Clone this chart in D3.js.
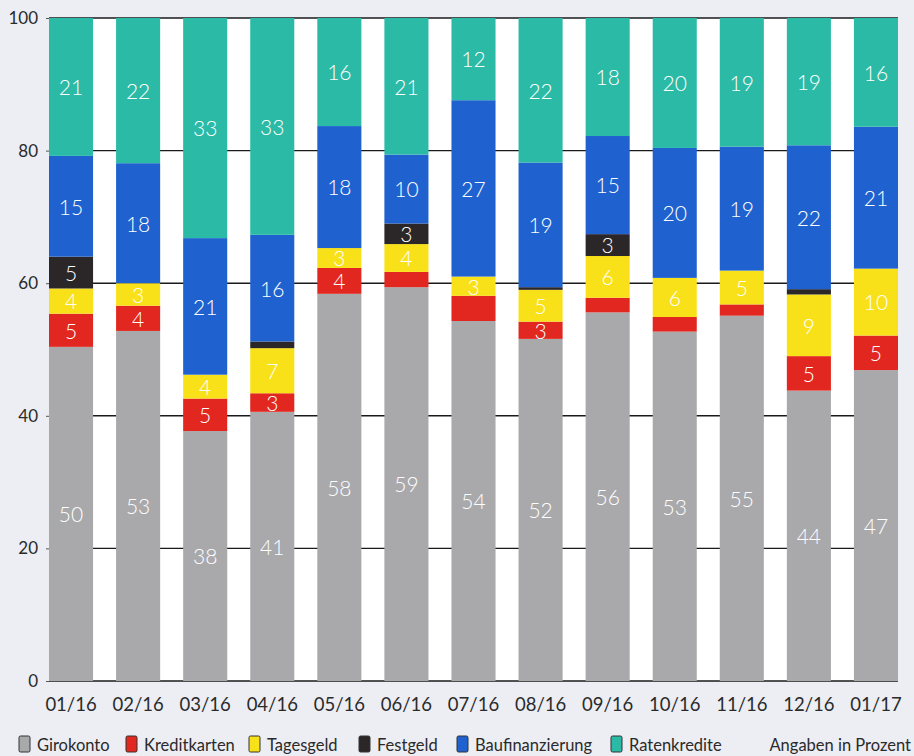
<!DOCTYPE html>
<html>
<head>
<meta charset="utf-8">
<script src="https://cdn.jsdelivr.net/npm/d3@7"></script>
<style>
  html, body { margin: 0; padding: 0; background: #eceef4; }
  svg { display: block; font-family: "Lato", "Open Sans", sans-serif; }
</style>
</head>
<body>
<svg id="chart" width="914" height="756"></svg>
<script>
// Monate
const categories = ["01/16", "02/16", "03/16", "04/16", "05/16", "06/16", "07/16",
                    "08/16", "09/16", "10/16", "11/16", "12/16", "01/17"];

// Anteile in Prozent
const girokonto       = [50.4, 52.8, 37.7, 40.6, 58.4, 59.4, 54.3, 51.6, 55.6, 52.7, 55.1, 43.8, 46.9];
const kreditkarten    = [5.0, 3.8, 4.9, 2.8, 3.9, 2.3, 3.8, 2.6, 2.2, 2.2, 1.7, 5.2, 5.2];
const tagesgeld       = [3.8, 3.4, 3.6, 6.8, 3.0, 4.2, 2.9, 4.8, 6.3, 5.9, 5.1, 9.3, 10.1];
const festgeld        = [4.8, 0, 0, 1.0, 0, 3.1, 0, 0.4, 3.3, 0, 0, 0.8, 0];
const baufinanzierung = [15.2, 18.1, 20.6, 16.1, 18.4, 10.4, 26.6, 18.8, 14.8, 19.6, 18.7, 21.7, 21.4];
const ratenkredite    = [20.8, 21.9, 33.2, 32.7, 16.3, 20.6, 12.4, 21.8, 17.8, 19.6, 19.4, 19.2, 16.4];

// Beschriftungen in den Balken (null = ohne Zahl)
const girokontoLabels       = [50, 53, 38, 41, 58, 59, 54, 52, 56, 53, 55, 44, 47];
const kreditkartenLabels    = [5, 4, 5, 3, 4, null, null, 3, null, null, null, 5, 5];
const tagesgeldLabels       = [4, 3, 4, 7, 3, 4, 3, 5, 6, 6, 5, 9, 10];
const festgeldLabels        = [5, null, null, null, null, 3, null, null, 3, null, null, null, null];
const baufinanzierungLabels = [15, 18, 21, 16, 18, 10, 27, 19, 15, 20, 19, 22, 21];
const ratenkrediteLabels    = [21, 22, 33, 33, 16, 21, 12, 22, 18, 20, 19, 19, 16];

const yTicks = [0, 20, 40, 60, 80, 100];

const series = [
  { key: "Girokonto",       values: girokonto,       labels: girokontoLabels,       color: "#a9a9ac" },
  { key: "Kreditkarten",    values: kreditkarten,    labels: kreditkartenLabels,    color: "#e1271f" },
  { key: "Tagesgeld",       values: tagesgeld,       labels: tagesgeldLabels,       color: "#f9e11a" },
  { key: "Festgeld",        values: festgeld,        labels: festgeldLabels,        color: "#2b2729" },
  { key: "Baufinanzierung", values: baufinanzierung, labels: baufinanzierungLabels, color: "#1f62cf" },
  { key: "Ratenkredite",    values: ratenkredite,    labels: ratenkrediteLabels,    color: "#2bbaa6" }
];

// Tabelle fuer d3.stack
const table = categories.map((c, i) => {
  const row = { month: c, idx: i };
  series.forEach(s => { row[s.key] = s.values[i]; });
  return row;
});

const svg = d3.select("#chart");
const plotLeft = 49, plotRight = 898, plotTop = 18, plotBottom = 681;

const x = d3.scaleBand()
  .domain(categories)
  .range([plotLeft, plotRight])
  .paddingInner(0.343)
  .paddingOuter(0);

const y = d3.scaleLinear()
  .domain([0, 100])
  .range([plotBottom, plotTop]);

// weisse Zeichenflaeche
svg.append("rect")
  .attr("x", plotLeft).attr("y", plotTop)
  .attr("width", plotRight - plotLeft).attr("height", plotBottom - plotTop)
  .attr("fill", "#ffffff");

// Gitterlinien
svg.append("g").selectAll("line")
  .data(yTicks)
  .enter().append("line")
  .attr("x1", plotLeft).attr("x2", plotRight)
  .attr("y1", d => y(d)).attr("y2", d => y(d))
  .attr("stroke", "#1a1a1a")
  .attr("stroke-width", 1.4);

// Balken
const stack = d3.stack().keys(series.map(s => s.key));
const layers = stack(table);

const layerG = svg.append("g").selectAll("g")
  .data(layers)
  .enter().append("g")
  .attr("fill", (d, i) => series[i].color);

layerG.selectAll("rect")
  .data(d => d)
  .enter().append("rect")
  .attr("x", d => x(d.data.month))
  .attr("y", d => y(d[1]))
  .attr("width", x.bandwidth())
  .attr("height", d => y(d[0]) - y(d[1]));

// Zahlen in den Balken
const labelG = svg.append("g")
  .attr("font-size", 21)
  .attr("font-weight", 300)
  .attr("fill", "#ffffff")
  .attr("text-anchor", "middle");

layers.forEach((layer, si) => {
  layer.forEach((d, i) => {
    const lab = series[si].labels[i];
    if (lab == null) return;
    labelG.append("text")
      .attr("x", x(d.data.month) + x.bandwidth() / 2)
      .attr("y", (y(d[0]) + y(d[1])) / 2 + 1)
      .attr("dy", "0.35em")
      .text(lab);
  });
});

// y-Achse
const yAxis = svg.append("g")
  .attr("transform", `translate(${plotLeft},0)`)
  .call(d3.axisLeft(y).tickValues(yTicks).tickSize(3).tickPadding(8));
yAxis.select(".domain").remove();
yAxis.selectAll(".tick line").attr("stroke", "#555");
yAxis.selectAll("text")
  .attr("font-size", 17)
  .attr("fill", "#2a2a2a")
  .style("font-family", "Lato, sans-serif");

// x-Achse
const xAxis = svg.append("g")
  .attr("transform", `translate(0,${plotBottom})`)
  .call(d3.axisBottom(x).tickSize(0).tickPadding(17));
xAxis.select(".domain").remove();
xAxis.selectAll("text")
  .attr("font-size", 18.5)
  .attr("fill", "#2a2a2a")
  .style("font-family", "Lato, sans-serif");

// Legende
const legendX = [19, 126, 249, 359, 457, 611];
const legend = svg.append("g");
series.forEach((s, i) => {
  const g = legend.append("g").attr("transform", `translate(${legendX[i]},736)`);
  g.append("rect")
    .attr("width", 11).attr("height", 16).attr("rx", 1.5)
    .attr("fill", s.color)
    .attr("stroke", "#333").attr("stroke-width", 1);
  g.append("text")
    .attr("x", 18).attr("y", 9).attr("dy", "0.35em")
    .attr("font-size", 16.5).attr("fill", "#2a2a2a")
    .text(s.key);
});
legend.append("text")
  .attr("x", 911).attr("y", 745).attr("dy", "0.35em")
  .attr("text-anchor", "end")
  .attr("font-size", 16.5).attr("fill", "#2a2a2a")
  .text("Angaben in Prozent");
</script>
</body>
</html>
